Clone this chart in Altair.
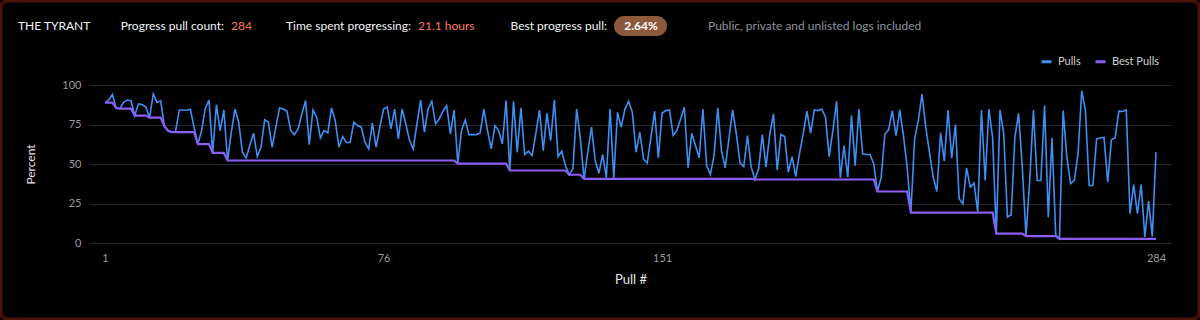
import altair as alt
import pandas as pd

# ---- data ----
pulls = [
    88.8, 90.5, 94.0, 85.5, 85.0, 89.0, 90.5, 90.0, 80.6, 88.0,
    87.6, 86.0, 79.3, 94.3, 89.0, 90.0, 74.0, 71.0, 70.2, 70.7,
    84.2, 84.2, 84.0, 84.6, 73.0, 62.6, 71.0, 85.0, 90.5, 57.0,
    87.6, 71.0, 84.2, 52.2, 70.0, 84.8, 76.4, 57.5, 53.9, 61.7,
    69.5, 54.7, 60.6, 78.1, 76.4, 60.6, 73.3, 85.5, 84.8, 83.4,
    71.2, 68.6, 72.2, 81.7, 90.1, 62.3, 84.2, 79.6, 66.5, 71.2,
    69.7, 85.5, 77.5, 60.6, 67.4, 63.6, 63.6, 76.4, 74.3, 73.3,
    63.8, 59.6, 75.8, 60.6, 73.3, 84.8, 85.9, 72.2, 84.8, 65.9,
    84.8, 75.4, 64.8, 59.6, 75.4, 90.5, 70.1, 84.8, 89.7, 75.4,
    78.5, 83.4, 86.9, 69.0, 84.2, 50.3, 71.2, 77.9, 68.6, 68.6,
    68.6, 69.5, 84.8, 71.2, 59.6, 74.3, 71.2, 62.7, 90.1, 45.9,
    89.7, 57.5, 85.5, 56.0, 58.1, 55.4, 69.0, 84.2, 58.5, 82.1,
    64.8, 90.5, 54.7, 58.1, 49.0, 43.2, 47.0, 84.8, 65.9, 40.6,
    57.5, 73.3, 52.2, 44.2, 56.0, 41.3, 84.8, 41.0, 82.7, 73.3,
    84.8, 89.7, 82.7, 57.5, 70.1, 53.3, 50.5, 66.9, 83.4, 53.9,
    82.1, 83.8, 84.2, 68.0, 71.2, 78.5, 85.9, 47.6, 69.5, 61.7,
    53.9, 84.8, 49.0, 43.4, 55.4, 85.5, 58.5, 47.6, 65.9, 84.2,
    69.0, 50.5, 48.4, 68.0, 48.0, 40.2, 47.0, 68.6, 48.0, 69.0,
    81.7, 46.3, 68.6, 67.4, 44.8, 54.7, 42.1, 56.4, 69.0, 83.4,
    69.5, 84.2, 83.8, 84.8, 79.6, 54.7, 71.2, 89.7, 41.3, 61.7,
    41.7, 80.6, 49.0, 84.8, 56.4, 56.0, 56.0, 50.0, 32.6, 41.7,
    69.0, 71.6, 83.8, 68.0, 84.2, 68.0, 48.0, 19.2, 65.9, 77.5,
    94.3, 73.3, 57.5, 41.7, 32.6, 69.7, 51.8, 84.2, 53.7, 74.9,
    28.0, 24.8, 47.6, 35.4, 37.9, 19.6, 84.2, 39.6, 84.8, 66.9,
    5.9, 84.2, 69.0, 16.4, 17.9, 66.9, 82.1, 48.0, 4.4, 39.6,
    84.2, 39.6, 39.6, 87.0, 16.4, 66.5, 5.0, 2.64, 83.8, 54.3,
    37.5, 39.6, 56.4, 96.4, 83.8, 36.4, 36.4, 65.9, 66.5, 67.0,
    38.5, 65.3, 66.5, 83.4, 83.2, 84.2, 18.5, 37.0, 18.5, 37.0,
    3.8, 26.5, 4.2, 57.5,
]
pull_numbers = list(range(1, len(pulls) + 1))
series_names = ["Pulls", "Best Pulls"]
series_colors = ["#3d8ff2", "#8b5cf6"]
y_ticks = [0, 25, 50, 75, 100]
x_ticks = [1, 76, 151, 284]

header_title = "THE TYRANT"
header_labels = ["Progress pull count:", "Time spent progressing:", "Best progress pull:"]
header_values = ["284", "21.1 hours"]
badge_value = "2.64%"
header_note = "Public, private and unlisted logs included"

# "Best Pulls" is the best (lowest) pull so far
best = pd.Series(pulls).cummin().tolist()

df = pd.DataFrame({
    "pull": pull_numbers + pull_numbers,
    "value": pulls + best,
    "series": ["Pulls"] * len(pulls) + ["Best Pulls"] * len(pulls),
})

FONT = "Lato"
W, H = 1081, 158
OX, OY = 90, 85  # plot origin on the page

color = alt.Color(
    "series:N",
    scale=alt.Scale(domain=series_names, range=series_colors),
    legend=alt.Legend(
        title=None, orient="none", legendX=1040 - OX, legendY=-30,
        direction="horizontal", symbolType="stroke", symbolStrokeWidth=3,
        symbolSize=100, labelColor="#d0d0d0", labelFont=FONT, labelFontSize=11,
        columnPadding=8, symbolOffset=0, labelOffset=5,
    ),
)

x = alt.X(
    "pull:Q",
    scale=alt.Scale(domain=[-3.04, 288.04], nice=False, zero=False),
    axis=alt.Axis(
        values=x_ticks, title="Pull #", grid=False, ticks=False, domain=False,
        labelColor="#9a9a9a", labelFont=FONT, labelFontSize=11, labelPadding=9,
        labelFlush=False, titleColor="#e6e6e6", titleFont=FONT, titleFontSize=13,
        titleFontWeight="normal", titlePadding=10,
    ),
)
y = alt.Y(
    "value:Q",
    scale=alt.Scale(domain=[0, 100], nice=False),
    axis=alt.Axis(
        values=y_ticks, title="Percent", gridColor="#25252d", gridWidth=1,
        ticks=False, domain=False, labelColor="#9a9a9a", labelFont=FONT,
        labelFontSize=11, labelPadding=9, titleColor="#e6e6e6", titleFont=FONT,
        titleFontSize=12, titleFontWeight="normal", titlePadding=24,
    ),
)

base = alt.Chart(df)
pulls_line = base.transform_filter(alt.datum.series == "Pulls").mark_line(
    strokeWidth=1.6, interpolate="linear"
).encode(x=x, y=y, color=color)
best_line = base.transform_filter(alt.datum.series == "Best Pulls").mark_line(
    strokeWidth=2.2, interpolate="linear"
).encode(x=x, y=y, color=color)

# ---- header ----
hy = 26 - OY


def txt(s, px, color_, align="left", weight="normal", size=12):
    return alt.Chart(pd.DataFrame({"t": [s]})).mark_text(
        align=align, baseline="middle", font=FONT, fontSize=size,
        fontWeight=weight, color=color_,
    ).encode(x=alt.value(px - OX), y=alt.value(hy), text="t:N")


badge = alt.Chart(pd.DataFrame({"t": [badge_value]})).mark_rect(
    color="#8c5a3a", cornerRadius=10
).encode(x=alt.value(614 - OX), x2=alt.value(667 - OX),
         y=alt.value(16 - OY), y2=alt.value(36 - OY))

border = alt.Chart(pd.DataFrame({"t": [0]})).mark_rect(
    fillOpacity=0, stroke="#4a1208", strokeWidth=3, cornerRadius=6
).encode(x=alt.value(1 - OX), x2=alt.value(1199 - OX),
         y=alt.value(1 - OY), y2=alt.value(319 - OY))

header = [
    txt(header_title, 18, "#f2f2f2"),
    txt(header_labels[0], 224, "#f2f2f2", align="right"),
    txt(header_values[0], 231, "#ff7657"),
    txt(header_labels[1], 411, "#f2f2f2", align="right"),
    txt(header_values[1], 418, "#ff7657"),
    txt(header_labels[2], 607, "#f2f2f2", align="right"),
    badge,
    txt(badge_value, 641, "#ffffff", align="center", weight="bold"),
    txt(header_note, 708, "#8e939c"),
]

chart = alt.layer(border, pulls_line, best_line, *header).properties(
    width=W, height=H,
    autosize=alt.AutoSizeParams(type="none"),
    padding={"left": OX, "top": OY, "right": 1200 - OX - W, "bottom": 320 - OY - H},
    background="#000000",
).configure_view(stroke=None)

chart.save("out.html", embed_options={"renderer": "svg", "actions": False})
